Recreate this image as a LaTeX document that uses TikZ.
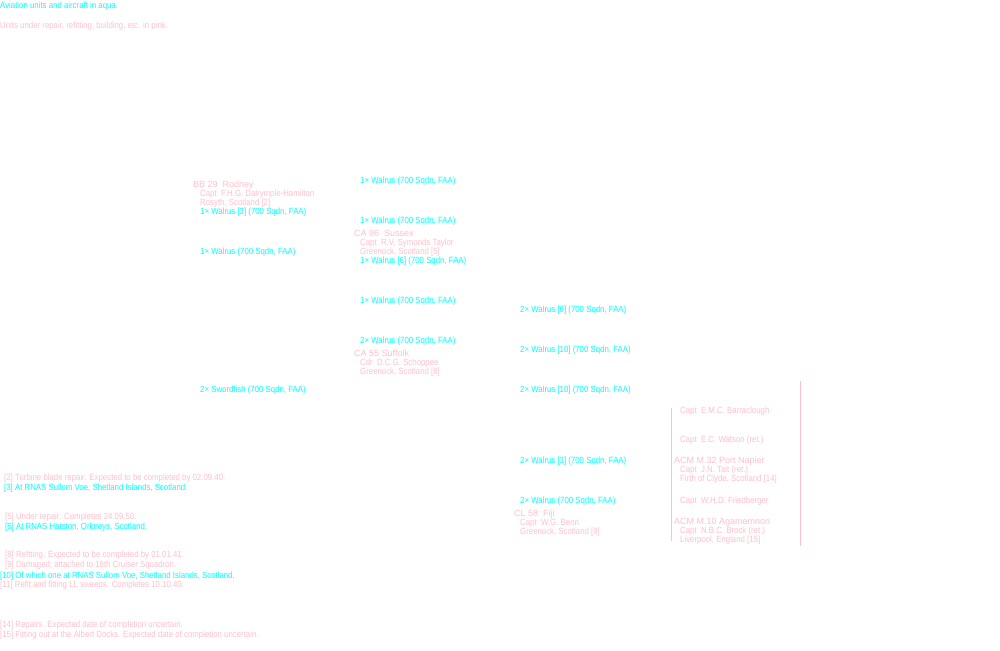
\documentclass[tikz,border=0pt]{standalone}
\usepackage{fontspec}
\setmainfont{Liberation Sans}[FakeStretch=0.87]
\newfontfamily\titlefont{Liberation Sans}
\definecolor{aqua}{RGB}{0,255,255}
\definecolor{pinkc}{RGB}{255,192,203}
\begin{document}
\begin{tikzpicture}[x=1pt,y=-1pt,
  txt/.style={anchor=base west,inner sep=0pt,font=\fontsize{9}{10}\selectfont},
  air/.style={txt,text=aqua},
  rep/.style={txt,text=pinkc},
  ship/.style={anchor=base west,inner sep=0pt,font=\titlefont\fontsize{9}{10}\selectfont,text=pinkc},
  bar/.style={draw=pinkc,line width=1pt}]
\useasboundingbox[fill=white] (0,0) rectangle (1000,650);
% legend
\node[air] (l1) at (0,9) {Aviation units and aircraft in aqua.};
\node[rep] (l2) at (0,29) {Units under repair, refitting, building, etc. in pink.};
% Rodney
\node[ship] (rod) at (193,187.5) {BB 29\ \ Rodney};
\node[rep] (rod1) at (200,196.5) {Capt\ \ F.H.G. Dalrymple-Hamilton};
\node[rep] (rod2) at (200,205.5) {Rosyth, Scotland [2]};
\node[air] (rod3) at (200,214.5) {1× Walrus [3] (700 Sqdn, FAA)};
\node[air] (c1a) at (200,254.5) {1× Walrus (700 Sqdn, FAA)};
\node[air] (c1b) at (200,392.5) {2× Swordfish (700 Sqdn, FAA)};
% column 2
\node[air] (c2a) at (360,183.5) {1× Walrus (700 Sqdn, FAA)};
\node[air] (c2b) at (360,223.5) {1× Walrus (700 Sqdn, FAA)};
\node[ship] (sus) at (354,236.5) {CA 96\ \ Sussex};
\node[rep] (sus1) at (360,245.5) {Capt\ \ R.V. Symonds Taylor};
\node[rep] (sus2) at (360,254.5) {Greenock, Scotland [5]};
\node[air] (sus3) at (360,263.5) {1× Walrus [6] (700 Sqdn, FAA)};
\node[air] (c2c) at (360,303.5) {1× Walrus (700 Sqdn, FAA)};
\node[air] (c2d) at (360,343.5) {2× Walrus (700 Sqdn, FAA)};
\node[ship] (suf) at (354,356.5) {CA 55 Suffolk};
\node[rep] (suf1) at (360,365.5) {Cdr\ \ D.C.G. Schoppee};
\node[rep] (suf2) at (360,374.5) {Greenock, Scotland [8]};
% column 3
\node[air] (c3a) at (520,312.5) {2× Walrus [6] (700 Sqdn, FAA)};
\node[air] (c3b) at (520,352.5) {2× Walrus [10] (700 Sqdn, FAA)};
\node[air] (c3c) at (520,392.5) {2× Walrus [10] (700 Sqdn, FAA)};
\node[air] (c3d) at (520,463.5) {2× Walrus [3] (700 Sqdn, FAA)};
\node[air] (c3e) at (520,503.5) {2× Walrus (700 Sqdn, FAA)};
\node[ship] (fij) at (514,516.5) {CL 58\ \ Fiji};
\node[rep] (fij1) at (520,525.5) {Capt\ \ W.G. Benn};
\node[rep] (fij2) at (520,534.5) {Greenock, Scotland [9]};
% column 4
\coordinate (b1t) at (671,408);
\coordinate (b1b) at (671,541);
\coordinate (b2t) at (800,381);
\coordinate (b2b) at (800,546);
\draw[bar] (b1t) -- (b1b);
\draw[bar] (b2t) -- (b2b);
\node[rep] (c4a) at (680,413.5) {Capt\ \ E.M.C. Barraclough};
\node[rep] (c4b) at (680,442.5) {Capt\ \ E.C. Watson (ret.)};
\node[ship] (pn) at (674,463.5) {ACM M.32 Port Napier};
\node[rep] (pn1) at (680,472.5) {Capt\ \ J.N. Tait (ret.)};
\node[rep] (pn2) at (680,481.5) {Firth of Clyde, Scotland [14]};
\node[rep] (c4c) at (680,503.5) {Capt\ \ W.H.D. Friedberger};
\node[ship] (ag) at (674,524.5) {ACM M.10 Agamemnon};
\node[rep] (ag1) at (680,533.5) {Capt\ \ N.B.C. Brock (ret.)};
\node[rep] (ag2) at (680,542.5) {Liverpool, England [15]};
% footnotes
\node[rep] (f2) at (4,480.5) {[2] Turbine blade repair. Expected to be completed by 02.09.40.};
\node[air] (f3) at (4,490.5) {[3] At RNAS Sullom Voe, Shetland Islands, Scotland.};
\node[rep] (f5) at (5,519.5) {[5] Under repair. Completes 24.09.50.};
\node[air] (f6) at (5,529.5) {[6] At RNAS Hatston, Orkneys, Scotland.};
\node[rep] (f8) at (5,557.5) {[8] Reftting. Expected to be completed by 01.01.41.};
\node[rep] (f9) at (5,567.5) {[9] Damaged; attached to 18th Cruiser Squadron.};
\node[air] (f10) at (0,578.5) {[10] Of which one at RNAS Sullom Voe, Shetland Islands, Scotland.};
\node[rep] (f11) at (0,587.5) {[11] Refit and fitting LL sweeps. Completes 10.10.40.};
\node[rep] (f14) at (0,627.5) {[14] Repairs. Expected date of completion uncertain.};
\node[rep] (f15) at (0,637.5) {[15] Fitting out at the Albert Docks. Expected date of completion uncertain.};
\end{tikzpicture}
\end{document}
